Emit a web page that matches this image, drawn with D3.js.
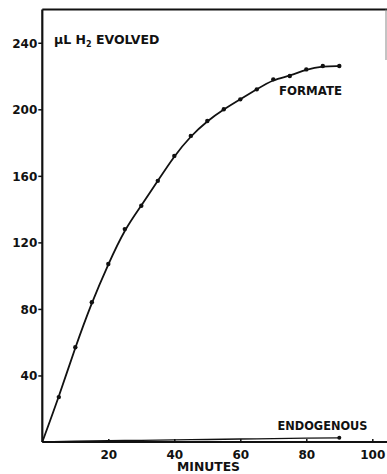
<!DOCTYPE html>
<html><head><meta charset="utf-8">
<script src="https://cdn.jsdelivr.net/npm/d3@7"></script>
<style>body{margin:0;background:#fff}svg{display:block}text{font-family:"DejaVu Sans",sans-serif;font-weight:bold;fill:#111}</style>
</head><body>
<svg id="c" width="387" height="474"></svg>
<script>
const minutes = [5,10,15,20,25,30,35,40,45,50,55,60,65,70,75,80,85,90];
const formate = [27,57,84,107,128,142,157,172,184,193,200,206,212,218,220,224,226,226];
const endoMinutes = [0,10,20,30,40,50,60,70,80,90];
const endogenous = [0,0.5,0.8,1,1.3,1.5,1.8,2,2.3,2.5];
const xTicks = [20,40,60,80,100];
const yTicks = [40,80,120,160,200,240];

const svg = d3.select("#c");
const x = d3.scaleLinear().domain([0,100]).range([42.3,372.3]);
const y = d3.scaleLinear().domain([0,260]).range([442,9.5]);

// frame
svg.append("line").attr("x1",42.3).attr("x2",387).attr("y1",9.5).attr("y2",9.5).attr("stroke","#111").attr("stroke-width",2);
svg.append("line").attr("x1",386).attr("x2",386).attr("y1",9.5).attr("y2",60).attr("stroke","#888").attr("stroke-width",1);

// y axis
const yAxis = svg.append("g").attr("transform","translate(42.3,0)")
  .call(d3.axisLeft(y).tickValues(yTicks).tickSize(4).tickPadding(1).tickFormat(d3.format("d")));
yAxis.select(".domain").attr("d",`M0,${y(0)}V9.5`).attr("stroke","#111").attr("stroke-width",2.2);
yAxis.selectAll(".tick line").attr("stroke","#111").attr("stroke-width",1.5);
yAxis.selectAll(".tick text").style("font-size","12px").attr("dy","0.36em");

// x axis
const xAxis = svg.append("g").attr("transform",`translate(0,${y(0)})`)
  .call(d3.axisBottom(x).tickValues(xTicks).tickSize(-3).tickPadding(8).tickFormat(d3.format("d")));
xAxis.select(".domain").attr("d",`M42.3,0H387`).attr("stroke","#111").attr("stroke-width",2.2);
xAxis.selectAll(".tick line").attr("stroke","#111").attr("stroke-width",1.5);
xAxis.selectAll(".tick text").style("font-size","12px").attr("dy","0.71em");

// formate curve
const pts = [[0,0]].concat(minutes.map((m,i)=>[m,formate[i]]));
const line = d3.line().x(d=>x(d[0])).y(d=>y(d[1])).curve(d3.curveBasis);
svg.append("path").attr("d",line(pts)).attr("fill","none").attr("stroke","#111").attr("stroke-width",1.8);
svg.selectAll("circle.f").data(minutes).enter().append("circle").attr("class","f")
  .attr("cx",(d)=>x(d)).attr("cy",(d,i)=>y(formate[i])).attr("r",2.2).attr("fill","#111");

// endogenous
const ePts = endoMinutes.map((m,i)=>[m,endogenous[i]]);
svg.append("path").attr("d",d3.line().x(d=>x(d[0])).y(d=>y(d[1])).curve(d3.curveMonotoneX)(ePts))
  .attr("fill","none").attr("stroke","#111").attr("stroke-width",1.3);
svg.append("circle").attr("cx",x(90)).attr("cy",y(endogenous[endogenous.length-1])).attr("r",2).attr("fill","#111");

// labels
const t1 = svg.append("text").attr("x",54).attr("y",43.5).style("font-size","12.5px");
t1.append("tspan").text("μL H");
t1.append("tspan").attr("dy",3).style("font-size","8px").text("2");
t1.append("tspan").attr("dy",-3).text(" EVOLVED");
svg.append("text").attr("x",279).attr("y",95).style("font-size","12px").attr("textLength",63).attr("lengthAdjust","spacingAndGlyphs").text("FORMATE");
svg.append("text").attr("x",277.5).attr("y",430).style("font-size","12px").attr("textLength",90).attr("lengthAdjust","spacingAndGlyphs").text("ENDOGENOUS");
svg.append("text").attr("x",177).attr("y",471).style("font-size","12px").attr("textLength",63).attr("lengthAdjust","spacingAndGlyphs").text("MINUTES");
</script>
</body></html>
